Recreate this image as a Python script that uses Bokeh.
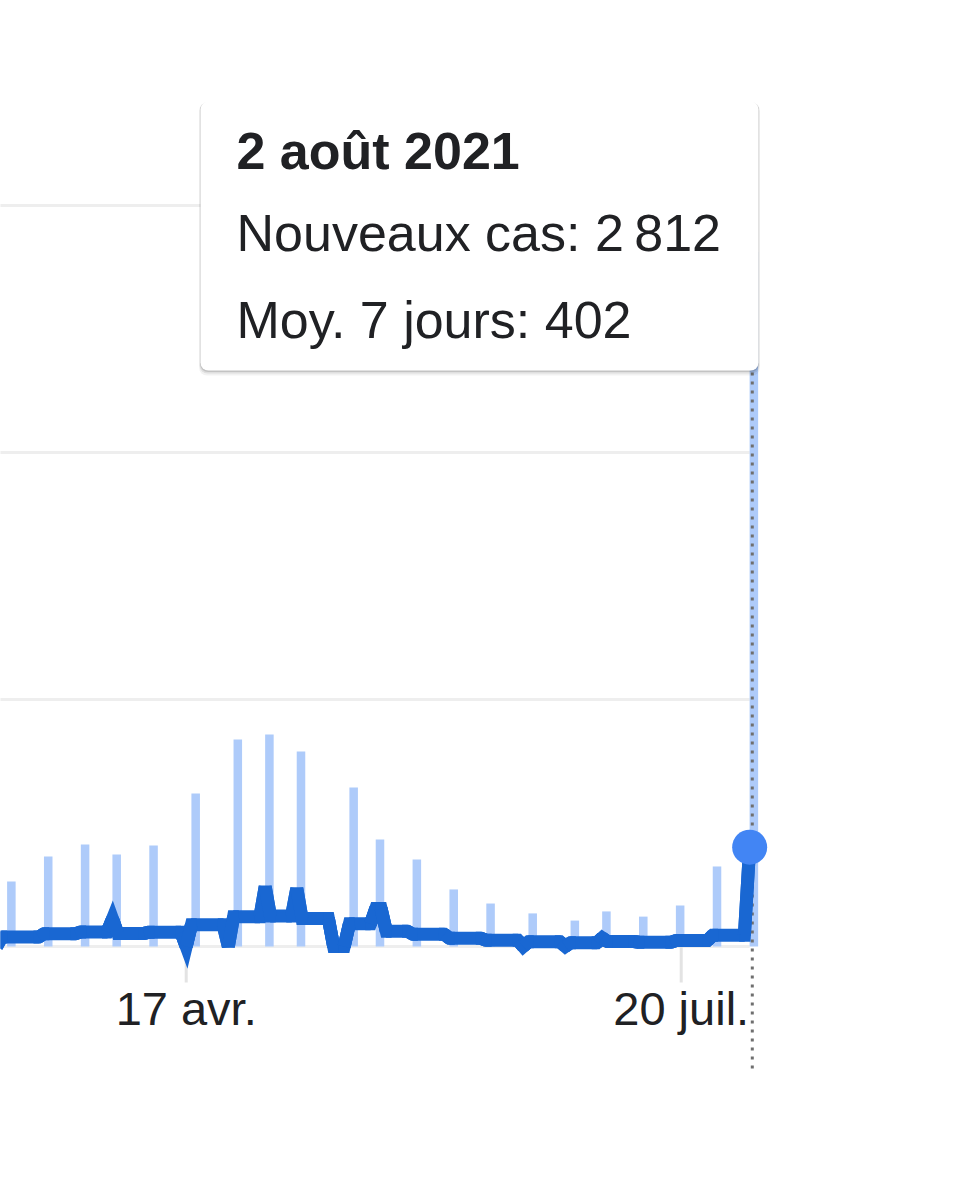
import math
import pandas as pd
from bokeh.plotting import figure
from bokeh.models import Range1d, FixedTicker, BoxAnnotation, Label
from bokeh.embed import file_html
from bokeh.resources import INLINE

# ---------------- data ----------------
bar_dates = ["2021-03-14", "2021-03-21", "2021-03-28", "2021-04-03", "2021-04-10",
             "2021-04-18", "2021-04-26", "2021-05-02", "2021-05-08", "2021-05-18",
             "2021-05-23", "2021-05-30", "2021-06-06", "2021-06-13", "2021-06-21",
             "2021-06-29", "2021-07-05", "2021-07-12", "2021-07-19", "2021-07-26",
             "2021-08-02"]
new_cases = [263, 364, 413, 372, 409, 619, 838, 858, 789, 644, 433, 352, 231, 174,
             134, 105, 142, 121, 166, 324, 2812]

avg_start = "2021-03-12"
avg_7d = [
    0, 38, 38, 38, 38, 38, 38, 38, 38,
    52, 52, 52, 52, 52, 52, 52,
    59, 59, 59, 59, 59, 59,
    112,
    53, 53, 53, 53, 53, 53,
    58, 58, 58, 58, 58, 58, 58,
    0,
    88, 88, 88, 88, 88, 88, 88,
    0,
    120, 120, 120, 120, 120, 120,
    242,
    123, 123, 123, 123, 123,
    235,
    113, 113, 113, 113, 113, 113,
    0, 0, 0,
    92, 92, 92, 92, 92,
    154, 154,
    62, 62, 62, 62, 62,
    50, 50, 50, 50, 50, 50, 50,
    33, 33, 33, 33, 33, 33, 33,
    25, 25, 25, 25, 25, 25, 25,
    0,
    19, 19, 19, 19, 19, 19, 19,
    0,
    15, 15, 15, 15, 15, 15,
    35,
    20, 20, 20, 20, 20, 20,
    17, 17, 17, 17, 17, 17, 17,
    24, 24, 24, 24, 24, 24, 24,
    46, 46, 46, 46, 46, 46, 46,
    402,
]

tick_dates = ["2021-04-17", "2021-07-20"]
tick_labels = ["17 avr.", "20 juil."]
y_grid_values = [0, 1000, 2000, 3000]

hover_date = "2021-08-02"
tooltip_title = "2 août 2021"
tooltip_lines = ["Nouveaux cas: 2\u202f812", "Moy. 7 jours: 402"]

# ---------------- layout constants ----------------
DAY = 86400000.0
PX_PER_DAY = 5.266
ANCHOR_PX = 185.7            # screen x of the first tick date
PX_PER_UNIT = 0.247          # screen px per case
BASE_PX = 946.0              # screen y of zero
FRAME_W, FRAME_H = 772, 1072
LINE_W = 13


def ms(d):
    return pd.Timestamp(d).value / 1e6


ANCHOR_MS = ms(tick_dates[0])


def xd(px):
    return ANCHOR_MS + (px - ANCHOR_PX) / PX_PER_DAY * DAY


def yd(py):
    return (BASE_PX - py) / PX_PER_UNIT


bar_x = [ms(d) + 0.8 * DAY for d in bar_dates]
avg_x = [ms(d) for d in pd.date_range(avg_start, periods=len(avg_7d), freq="D")]
tick_x = [ms(d) for d in tick_dates]
hover_ms = ms(hover_date)

p = figure(frame_width=FRAME_W, frame_height=FRAME_H,
           x_axis_type="datetime", y_axis_location=None,
           x_range=Range1d(xd(0), xd(FRAME_W)),
           y_range=Range1d(yd(FRAME_H), yd(0)),
           toolbar_location=None, output_backend="svg",
           min_border_left=0, min_border_right=0, min_border_top=0, min_border_bottom=0,
           background_fill_color="white", border_fill_color="white")
p.outline_line_color = None
p.grid.visible = False

# horizontal grid lines (end at the last date like the original chart area)
p.segment(x0=[xd(-5)] * len(y_grid_values), y0=y_grid_values,
          x1=[hover_ms] * len(y_grid_values), y1=y_grid_values,
          line_color="#eeeeee", line_width=3)

# x axis (labels only)
ax = p.xaxis[0]
ax.ticker = FixedTicker(ticks=tick_x)
ax.major_label_overrides = {t: lab for t, lab in zip(tick_x, tick_labels)}
ax.axis_line_color = None
ax.major_tick_line_color = None
ax.minor_tick_line_color = None
ax.major_label_text_font = "Liberation Sans"
ax.major_label_text_font_size = "47px"
ax.major_label_text_color = "#202124"
ax.major_label_standoff = -97

# tick marks below the baseline
p.segment(x0=tick_x, y0=[0] * len(tick_x), x1=tick_x, y1=[yd(982)] * len(tick_x),
          line_color="#e3e3e3", line_width=3)

# bars
p.vbar(x=bar_x, top=new_cases, bottom=0, width=1.62 * DAY,
       fill_color="#aecbfa", line_color=None)

# hover dotted line
hx = hover_ms + 0.5 * DAY
p.segment(x0=[hx], y0=[yd(120)], x1=[hx], y1=[yd(1068)],
          line_color="#6f6f6f", line_width=3, line_dash="3 6")

# 7-day average line: bevel joins, with miter tips where an SVG miter limit of 4 keeps them
LINE_COLOR = "#1967d2"
p.line(avg_x, avg_7d, line_width=LINE_W, line_color=LINE_COLOR, line_join="bevel")
miter_xs, miter_ys = [], []
for i in range(1, len(avg_7d) - 1):
    ax_, ay_ = -PX_PER_DAY, (avg_7d[i - 1] - avg_7d[i]) * PX_PER_UNIT
    bx_, by_ = PX_PER_DAY, (avg_7d[i + 1] - avg_7d[i]) * PX_PER_UNIT
    c = (ax_ * bx_ + ay_ * by_) / (math.hypot(ax_, ay_) * math.hypot(bx_, by_))
    theta = math.acos(max(-1.0, min(1.0, c)))
    if theta < math.pi - 1e-3 and 1.0 / math.sin(theta / 2) <= 4.0:
        miter_xs.append(avg_x[i - 1:i + 2])
        miter_ys.append(avg_7d[i - 1:i + 2])
if miter_xs:
    p.multi_line(miter_xs, miter_ys, line_width=LINE_W, line_color=LINE_COLOR,
                 line_join="miter")

# hovered point
p.scatter([avg_x[-1]], [avg_7d[-1]], size=35, fill_color="#4285f4", line_color=None)

# tooltip card with a soft shadow
for off, alpha in [(5, 0.05), (3, 0.08), (1.5, 0.12)]:
    p.add_layout(BoxAnnotation(left=xd(200 - off * 0.3), right=xd(758 + off * 0.3),
                               top=yd(101 + off * 0.3), bottom=yd(370 + off),
                               fill_color="black", fill_alpha=alpha,
                               line_color=None, border_radius=8))
p.add_layout(BoxAnnotation(left=xd(200), right=xd(758), top=yd(101), bottom=yd(370),
                           fill_color="white", fill_alpha=1.0, line_color=None,
                           border_radius=8))

p.add_layout(Label(x=xd(236), y=yd(150), text=tooltip_title,
                   text_font="Liberation Sans", text_font_style="bold",
                   text_font_size="52px", text_color="#202124",
                   text_baseline="middle", text_align="left"))
for line_text, mid in zip(tooltip_lines, [232, 319]):
    p.add_layout(Label(x=xd(236), y=yd(mid), text=line_text,
                       text_font="Liberation Sans", text_font_size="52px",
                       text_color="#202124", text_baseline="middle",
                       text_align="left"))

open("out.html", "w").write(file_html(p, INLINE))
